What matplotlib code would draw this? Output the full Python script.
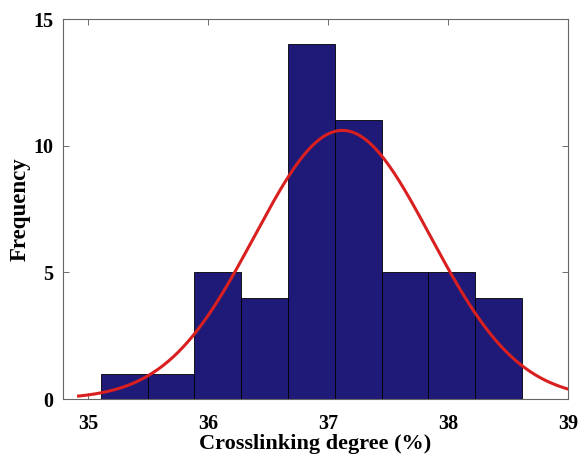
import numpy as np
import matplotlib.pyplot as plt

# histogram
bin_edges = [35.106, 35.496, 35.886, 36.276, 36.666, 37.056, 37.446, 37.836, 38.226, 38.614]
counts = [1, 1, 5, 4, 14, 11, 5, 5, 4]

# normal fit (estimated)
fit_mu = 37.12
fit_sigma = 0.733
fit_x = np.linspace(34.92, 39.0, 300)

xticks = [35, 36, 37, 38, 39]
yticks = [0, 5, 10, 15]

plt.rcParams['font.family'] = ['Liberation Serif', 'DejaVu Serif']
plt.rcParams['font.weight'] = 'bold'

fig = plt.figure(figsize=(5.79, 4.55), dpi=100)
ax = fig.add_axes([0.1088, 0.123, 0.872, 0.835])

edges = np.array(bin_edges)
ax.bar(edges[:-1], counts, width=np.diff(edges), align='edge',
       color='#1f1a78', edgecolor='black', linewidth=0.6, zorder=2)

bw = np.mean(np.diff(edges))
n = sum(counts)
fit_y = n * bw / (fit_sigma * np.sqrt(2 * np.pi)) * np.exp(-0.5 * ((fit_x - fit_mu) / fit_sigma) ** 2)
ax.plot(fit_x, fit_y, color='#d91f1f', linewidth=2.2, zorder=3)

ax.set_xlim(34.79, 39.0)
ax.set_ylim(0, 15)
ax.set_xticks(xticks)
ax.set_yticks(yticks)
ax.tick_params(direction='in', top=True, right=True, length=4, width=0.6,
               labelsize=14.5, color='#555555')
ax.tick_params(axis='x', pad=11)
ax.tick_params(axis='y', pad=7)
for s in ax.spines.values():
    s.set_color('#666666')
    s.set_linewidth(0.8)

ax.set_xlabel('Crosslinking degree (%)', fontsize=16, fontweight='bold', labelpad=0)
ax.set_ylabel('Frequency', fontsize=16.5, fontweight='bold', labelpad=2)

fig.savefig('out.png', dpi=100)
